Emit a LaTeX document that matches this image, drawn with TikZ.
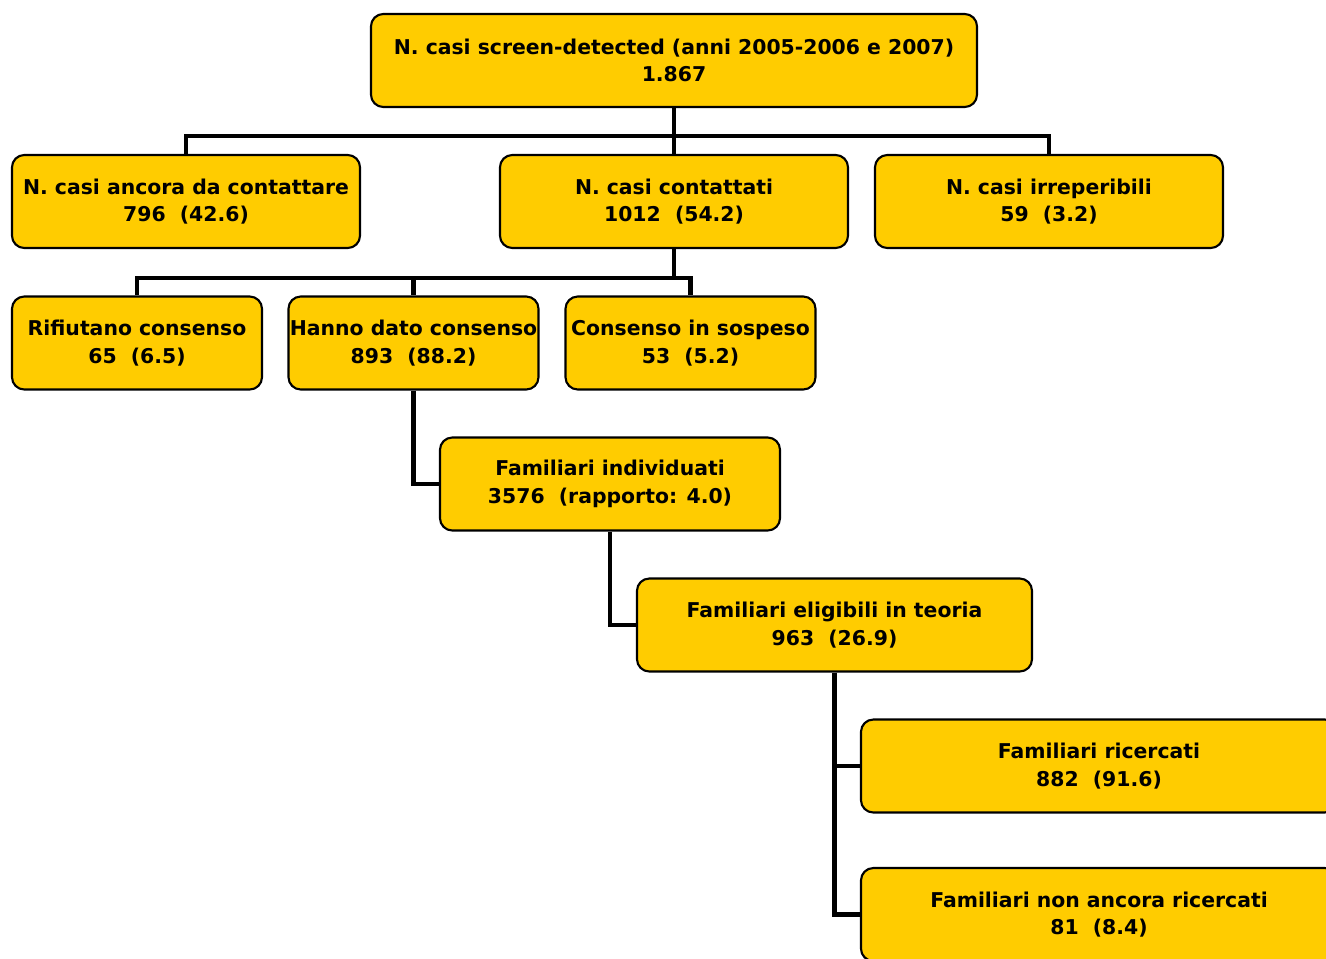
\documentclass[tikz,border=0pt]{standalone}
\usepackage{fontspec}
\setmainfont{DejaVu Sans}
\definecolor{boxyellow}{HTML}{FFCC00}
\tikzset{
  casebox/.style={draw=black, line width=1.2pt, fill=boxyellow, rounded corners=7pt,
    align=center, inner sep=0pt, minimum height=93*0.02cm,
    font=\bfseries\fontsize{11.6}{15.6}\selectfont},
  link/.style={line width=2.6pt},
}

\begin{document}
\begin{tikzpicture}[x=0.02cm,y=-0.02cm]
        \useasboundingbox (0,0) rectangle (1326,958);
        \clip (0,0) rectangle (1326,958);
        \node[casebox, minimum width=606*0.02cm] (screen) at (674,60.5)
            {N. casi screen-detected (anni 2005-2006 e 2007)\\1.867};
        \node[casebox, minimum width=348*0.02cm] (ancora) at (186,201.5)
            {N. casi ancora da contattare\\796\ \ (42.6)};
        \node[casebox, minimum width=348*0.02cm] (contattati) at (674,201.5)
            {N. casi contattati\\1012\ \ (54.2)};
        \node[casebox, minimum width=348*0.02cm] (irreperibili) at (1049,201.5)
            {N. casi irreperibili\\59\ \ (3.2)};
        \node[casebox, minimum width=250*0.02cm] (rifiutano) at (137,343)
            {Rifiutano consenso\\65\ \ (6.5)};
        \node[casebox, minimum width=250*0.02cm] (hanno) at (413.5,343)
            {Hanno dato consenso\\893\ \ (88.2)};
        \node[casebox, minimum width=250*0.02cm] (sospeso) at (690.5,343)
            {Consenso in sospeso\\53\ \ (5.2)};
        \node[casebox, minimum width=340*0.02cm] (individuati) at (610,484)
            {Familiari individuati\\3576\ \ (rapporto: 4.0)};
        \node[casebox, minimum width=395*0.02cm] (eligibili) at (834.5,625)
            {Familiari eligibili in teoria\\963\ \ (26.9)};
        \node[casebox, minimum width=476*0.02cm] (ricercati) at (1099,766)
            {Familiari ricercati\\882\ \ (91.6)};
        \node[casebox, minimum width=476*0.02cm] (nonricercati) at (1099,914.5)
            {Familiari non ancora ricercati\\81\ \ (8.4)};
        % bus lines under the first two levels
        \draw[link] (screen.south) -- ++(0,28) -| (ancora.north);
        \draw[link] (screen.south) -- ++(0,28) -| (irreperibili.north);
        \draw[link] (screen.south) -- (contattati.north);
        \draw[link] (contattati.south) -- ++(0,29) -| (rifiutano.north);
        \draw[link] (contattati.south) -- ++(0,29) -| (hanno.north);
        \draw[link] (contattati.south) -- ++(0,29) -| (sospeso.north);
        % elbow lines further down
        \draw[link] (hanno.south) |- (individuati.west);
        \draw[link] (individuati.south) |- (eligibili.west);
        \draw[link] (eligibili.south) |- (ricercati.west);
        \draw[link] (eligibili.south) |- (nonricercati.west);
    \end{tikzpicture}
\end{document}
